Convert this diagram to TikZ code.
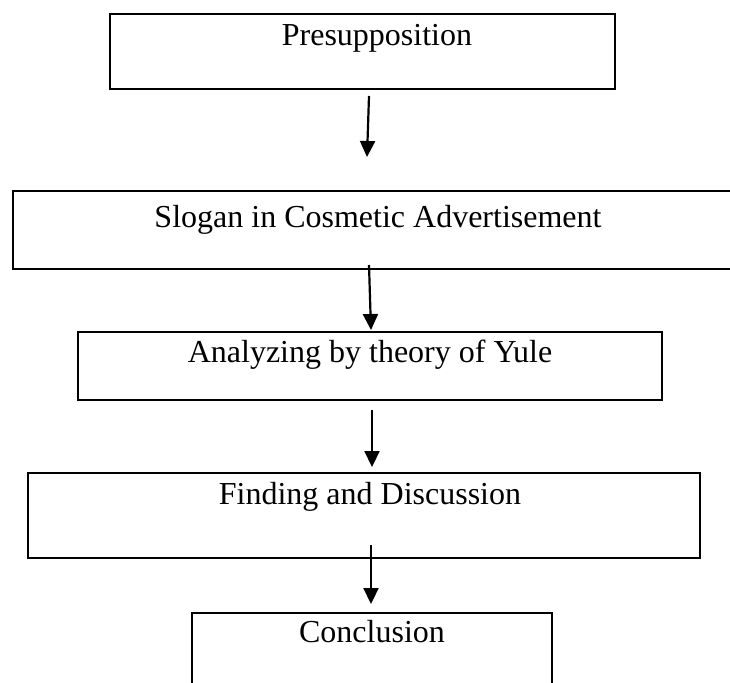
\documentclass[tikz,border=0pt]{standalone}
\usepackage{fontspec}
\setmainfont{Liberation Serif}
\usetikzlibrary{arrows.meta}
\begin{document}
\begin{tikzpicture}[x=1pt,y=-1pt,
  box/.style={draw=black, line width=2.6pt, rectangle, inner sep=0pt, outer sep=0pt},
  lbl/.style={anchor=base, inner sep=0pt, font=\fontsize{32}{38}\selectfont},
  arr/.style={line width=2.2pt, -{Triangle[width=15pt,length=16pt]}}]
\useasboundingbox (0,0) rectangle (730,682);
\fill[white] (0,0) rectangle (730,682);
% boxes
\node[box, minimum width=505pt, minimum height=75pt] (p) at (362.5,51.5) {};
\node[box, minimum width=732pt, minimum height=78pt] (s) at (379,230) {};
\node[box, minimum width=584pt, minimum height=68pt] (a) at (370,366) {};
\node[box, minimum width=672pt, minimum height=85pt] (f) at (364,515.5) {};
\node[box, minimum width=360pt, minimum height=90pt] (c) at (372,658) {};
% texts
\node[lbl] (pt) at (377,46) {Presupposition};
\node[lbl] (st) at (378,227) {Slogan in Cosmetic Advertisement};
\node[lbl] (at) at (370,362) {Analyzing by theory of Yule};
\node[lbl] (ft) at (370,504) {Finding and Discussion};
\node[lbl] (ct) at (372,642) {Conclusion};
% arrows
\draw[arr] ([shift={(6.5,7)}]p.south) -- ([shift={(-12,-34)}]s.north);
\draw[arr] ([shift={(-10,-4)}]s.south) -- ([shift={(1,-2)}]a.north);
\draw[arr] ([shift={(2,10)}]a.south) -- ([shift={(8,-6)}]f.north);
\draw[arr] ([shift={(7,-13)}]f.south) -- ([shift={(-1,-9)}]c.north);
\end{tikzpicture}
\end{document}
